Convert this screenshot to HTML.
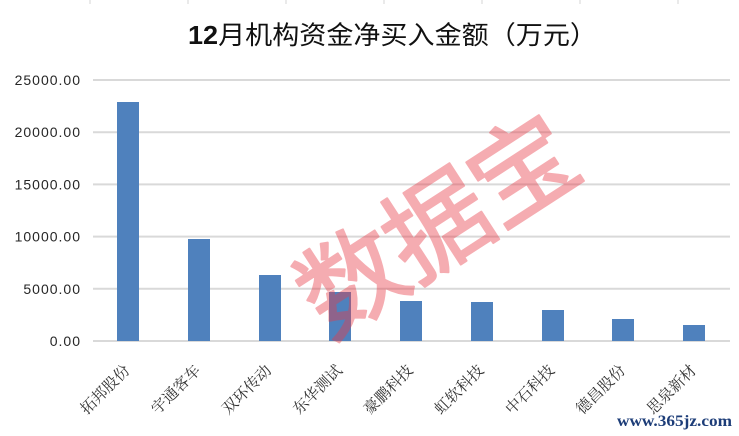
<!DOCTYPE html>
<html>
<head>
<meta charset="utf-8">
<style>
html,body{margin:0;padding:0;background:#fff;}
svg{display:block;}
</style>
</head>
<body>
<svg width="739" height="436" viewBox="0 0 739 436" xmlns="http://www.w3.org/2000/svg">
  <rect width="739" height="436" fill="#fff"/>
  <!-- faint top cell lines -->
  <g stroke="#d4d4d4" stroke-width="1">
    <line x1="90" y1="0" x2="90" y2="4"/>
    <line x1="188" y1="0" x2="188" y2="4"/>
    <line x1="286" y1="0" x2="286" y2="4"/>
    <line x1="384" y1="0" x2="384" y2="4"/>
    <line x1="482" y1="0" x2="482" y2="4"/>
    <line x1="580" y1="0" x2="580" y2="4"/>
    <line x1="678" y1="0" x2="678" y2="4"/>
  </g>

  <!-- title -->
  <text x="188" y="44" textLength="409" lengthAdjust="spacingAndGlyphs" font-size="25.5" fill="#111" font-family="'Liberation Sans','Noto Sans CJK SC',sans-serif"><tspan font-weight="bold">12</tspan><tspan font-family="'Noto Sans CJK SC',sans-serif">月机构资金净买入金额（万元）</tspan></text>

  <!-- gridlines -->
  <g stroke="#d9d9d9" stroke-width="2">
    <line x1="93" y1="80" x2="730" y2="80"/>
    <line x1="93" y1="132.2" x2="730" y2="132.2"/>
    <line x1="93" y1="184.4" x2="730" y2="184.4"/>
    <line x1="93" y1="236.6" x2="730" y2="236.6"/>
    <line x1="93" y1="288.8" x2="730" y2="288.8"/>
    <line x1="93" y1="341" x2="730" y2="341"/>
  </g>

  <!-- y labels -->
  <g font-family="'Liberation Sans',sans-serif" font-size="14" fill="#262626" text-anchor="end" letter-spacing="1">
    <text x="81" y="85">25000.00</text>
    <text x="81" y="137.2">20000.00</text>
    <text x="81" y="189.4">15000.00</text>
    <text x="81" y="241.6">10000.00</text>
    <text x="81" y="293.8">5000.00</text>
    <text x="81" y="346">0.00</text>
  </g>

  <!-- bars -->
  <g fill="#4f81bd">
    <rect x="117" y="102" width="22" height="239"/>
    <rect x="188" y="239" width="22" height="102"/>
    <rect x="259" y="275" width="22" height="66"/>
    <rect x="329" y="292" width="22" height="49"/>
    <rect x="400" y="301" width="22" height="40"/>
    <rect x="471" y="302" width="22" height="39"/>
    <rect x="542" y="310" width="22" height="31"/>
    <rect x="612" y="319" width="22" height="22"/>
    <rect x="683" y="325" width="22" height="16"/>
  </g>

  <!-- x labels -->
  <g font-family="'Noto Serif CJK SC','Noto Sans CJK SC',serif" font-size="15.5" fill="#333" text-anchor="middle" dominant-baseline="central">
    <text transform="translate(104.5,389) rotate(-45)">拓邦股份</text>
    <text transform="translate(175.3,389) rotate(-45)">宇通客车</text>
    <text transform="translate(246.1,389) rotate(-45)">双环传动</text>
    <text transform="translate(316.9,389) rotate(-45)">东华测试</text>
    <text transform="translate(387.7,389) rotate(-45)">豪鹏科技</text>
    <text transform="translate(458.5,389) rotate(-45)">虹软科技</text>
    <text transform="translate(529.3,389) rotate(-45)">中石科技</text>
    <text transform="translate(600.1,389) rotate(-45)">德昌股份</text>
    <text transform="translate(670.9,389) rotate(-45)">思泉新材</text>
  </g>

  <!-- watermark -->
  <g opacity="0.42">
    <text transform="translate(432,219) rotate(-33)" font-family="'Noto Sans CJK SC',sans-serif" font-size="104" fill="rgb(232,60,72)" stroke="rgb(232,60,72)" stroke-width="2" stroke-linejoin="round" text-anchor="middle" dominant-baseline="central" letter-spacing="-2">数据宝</text>
  </g>

  <!-- site mark -->
  <text x="617" y="426" textLength="115" lengthAdjust="spacingAndGlyphs" font-family="'Liberation Serif',serif" font-weight="bold" font-size="16" fill="#1d3d78">www.365jz.com</text>
</svg>
</body>
</html>
